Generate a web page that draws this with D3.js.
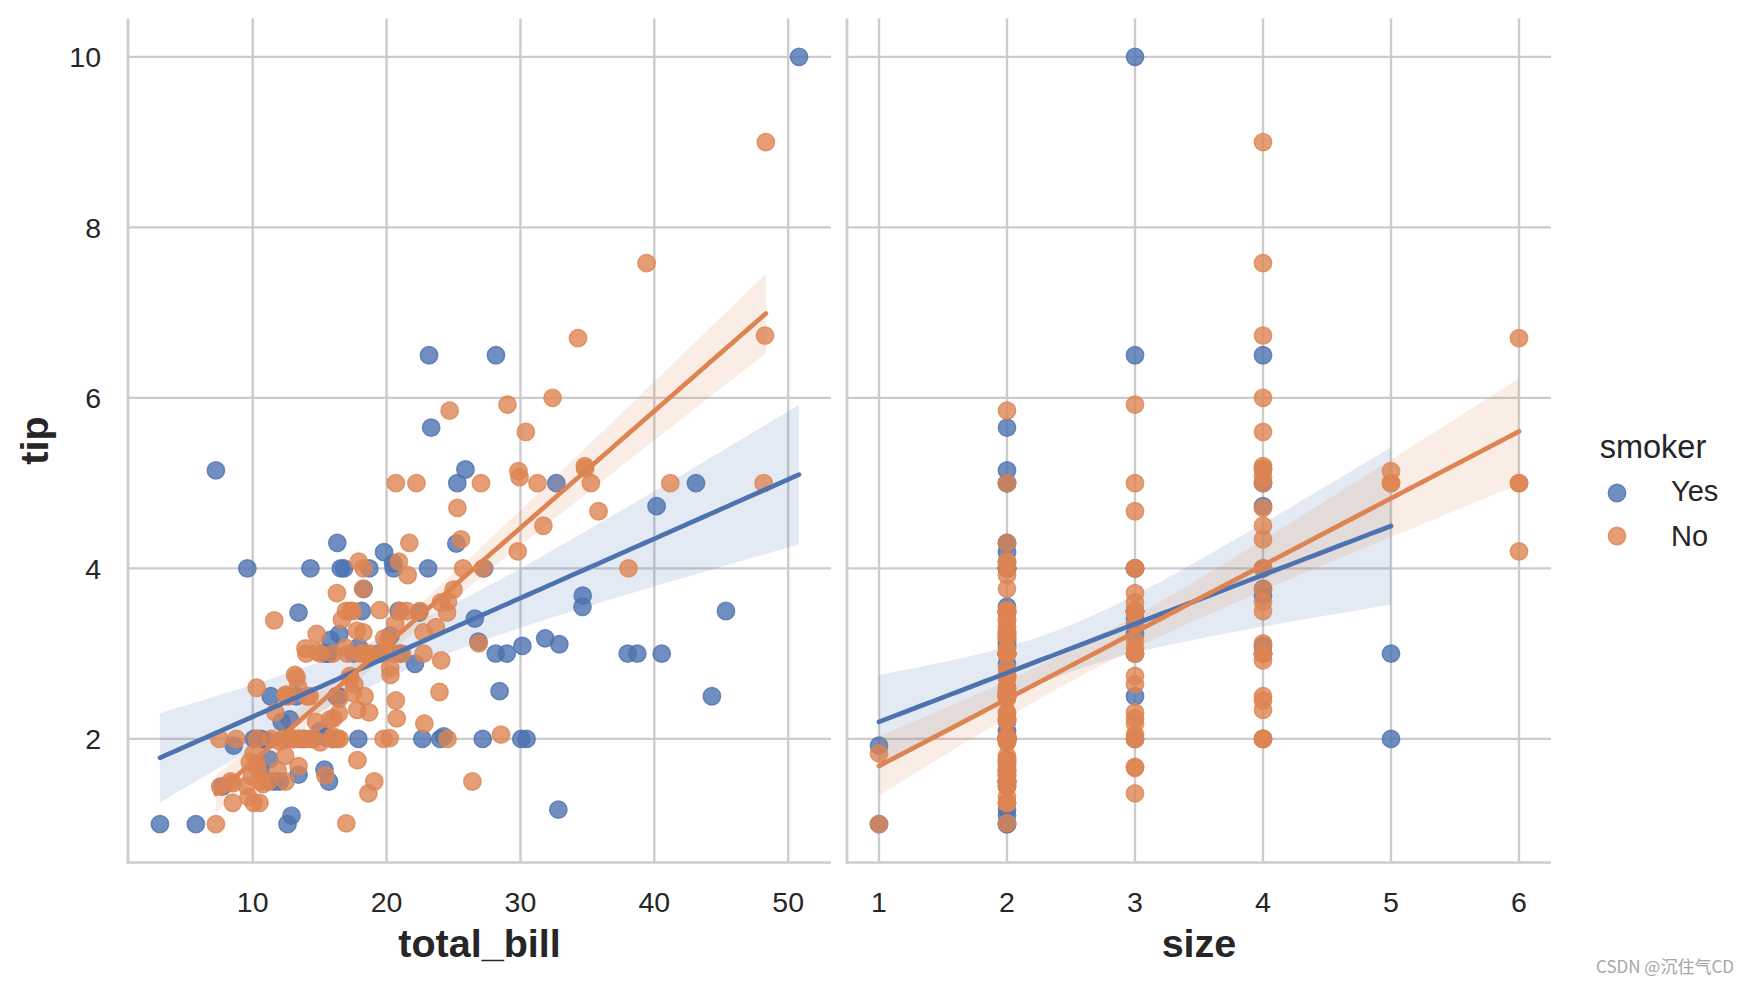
<!DOCTYPE html>
<html><head><meta charset="utf-8">
<script src="https://cdn.jsdelivr.net/npm/d3@7"></script>
<style>html,body{margin:0;padding:0;background:#fff;}svg{display:block;}</style>
</head><body>
<svg id="chart" width="1748" height="984"></svg>
<script>
// ---- data (tips dataset) ----
const totalBill = [16.99,10.34,21.01,23.68,24.59,25.29,8.77,26.88,15.04,14.78,10.27,35.26,15.42,18.43,14.83,21.58,10.33,16.29,16.97,20.65,17.92,20.29,15.77,39.42,19.82,17.81,13.37,12.69,21.7,19.65,9.55,18.35,15.06,20.69,17.78,24.06,16.31,16.93,18.69,31.27,16.04,17.46,13.94,9.68,30.4,18.29,22.23,32.4,28.55,18.04,12.54,10.29,34.81,9.94,25.56,19.49,38.01,26.41,11.24,48.27,20.29,13.81,11.02,18.29,17.59,20.08,16.45,3.07,20.23,15.01,12.02,17.07,26.86,25.28,14.73,10.51,17.92,27.2,22.76,17.29,19.44,16.66,10.07,32.68,15.98,34.83,13.03,18.28,24.71,21.16,28.97,22.49,5.75,16.32,22.75,40.17,27.28,12.03,21.01,12.46,11.35,15.38,44.3,22.42,20.92,15.36,20.49,25.21,18.24,14.31,14.0,7.25,38.07,23.95,25.71,17.31,29.93,10.65,12.43,24.08,11.69,13.42,14.26,15.95,12.48,29.8,8.52,14.52,11.38,22.82,19.08,20.27,11.17,12.26,18.26,8.51,10.33,14.15,16.0,13.16,17.47,34.3,41.19,27.05,16.43,8.35,18.64,11.87,9.78,7.51,14.07,13.13,17.26,24.55,19.77,29.85,48.17,25.0,13.39,16.49,21.5,12.66,16.21,13.81,17.51,24.52,20.76,31.71,10.59,10.63,50.81,15.81,7.25,31.85,16.82,32.9,17.89,14.48,9.6,34.63,34.65,23.33,45.35,23.17,40.55,20.69,20.9,30.46,18.15,23.1,15.69,19.81,28.44,15.48,16.58,7.56,10.34,43.11,13.0,13.51,18.71,12.74,13.0,16.4,20.53,16.47,26.59,38.73,24.27,12.76,30.06,25.89,48.33,13.27,28.17,12.9,28.15,11.59,7.74,30.14,12.16,13.42,8.58,15.98,13.42,16.27,10.09,20.45,13.28,22.12,24.01,15.69,11.61,10.77,15.53,10.07,12.6,32.83,35.83,29.03,27.18,22.67,17.82,18.78];
const tip = [1.01,1.66,3.5,3.31,3.61,4.71,2.0,3.12,1.96,3.23,1.71,5.0,1.57,3.0,3.02,3.92,1.67,3.71,3.5,3.35,4.08,2.75,2.23,7.58,3.18,2.34,2.0,2.0,4.3,3.0,1.45,2.5,3.0,2.45,3.27,3.6,2.0,3.07,2.31,5.0,2.24,2.54,3.06,1.32,5.6,3.0,5.0,6.0,2.05,3.0,2.5,2.6,5.2,1.56,4.34,3.51,3.0,1.5,1.76,6.73,3.21,2.0,1.98,3.76,2.64,3.15,2.47,1.0,2.01,2.09,1.97,3.0,3.14,5.0,2.2,1.25,3.08,4.0,3.0,2.71,3.0,3.4,1.83,5.0,2.03,5.17,2.0,4.0,5.85,3.0,3.0,3.5,1.0,4.3,3.25,4.73,4.0,1.5,3.0,1.5,2.5,3.0,2.5,3.48,4.08,1.64,4.06,4.29,3.76,4.0,3.0,1.0,4.0,2.55,4.0,3.5,5.07,1.5,1.8,2.92,2.31,1.68,2.5,2.0,2.52,4.2,1.48,2.0,2.0,2.18,1.5,2.83,1.5,2.0,3.25,1.25,2.0,2.0,2.0,2.75,3.5,6.7,5.0,5.0,2.3,1.5,1.36,1.63,1.73,2.0,2.5,2.0,2.74,2.0,2.0,5.14,5.0,3.75,2.61,2.0,3.5,2.5,2.0,2.0,3.0,3.48,2.24,4.5,1.61,2.0,10.0,3.16,5.15,3.18,4.0,3.11,2.0,2.0,4.0,3.55,3.68,5.65,3.5,6.5,3.0,5.0,3.5,2.0,3.5,4.0,1.5,4.19,2.56,2.02,4.0,1.44,2.0,5.0,2.0,2.0,4.0,2.01,2.0,2.5,4.0,3.23,3.41,3.0,2.03,2.23,2.0,5.16,9.0,2.5,6.5,1.1,3.0,1.5,1.44,3.09,2.2,3.48,1.92,3.0,1.58,2.5,2.0,3.0,2.72,2.88,2.0,3.0,3.39,1.47,3.0,1.25,1.0,1.17,4.67,5.92,2.0,2.0,1.75,3.0];
const partySize = [2,3,3,2,4,4,2,4,2,2,2,4,2,4,2,2,3,3,3,3,2,2,2,4,2,4,2,2,2,2,2,4,2,4,2,3,3,3,3,3,3,2,2,2,4,2,2,4,3,2,2,2,4,2,4,2,4,2,2,4,2,2,2,4,3,3,2,1,2,2,2,3,2,2,2,2,2,4,2,2,2,2,1,2,2,4,2,2,2,2,2,2,2,2,2,4,2,2,2,2,2,2,3,2,2,2,2,2,2,2,2,1,3,2,3,2,4,2,2,4,2,2,2,2,2,6,2,2,2,3,2,2,2,2,2,2,2,2,2,2,2,6,5,6,2,2,3,2,2,2,2,2,3,4,4,5,6,4,2,4,4,2,3,2,2,3,2,4,2,2,3,2,2,2,2,2,2,2,2,2,4,2,3,4,2,5,3,5,3,3,2,2,2,2,2,2,2,4,2,2,3,2,2,2,4,3,3,4,2,2,3,4,4,2,3,2,5,2,2,4,2,2,1,3,2,2,2,4,2,2,4,3,2,2,2,2,2,2,3,3,2,2,2,2];
const smokerCode = ("NNNNNNNNNN" + "NNNNNNNNNN" + "NNNNNNNNNN" + "NNNNNNNNNN" + "NNNNNNNNNN" +
  "NNNNNNYNYN" + "YYYYNNNYNY" + "NNYYNNYNNN" + "YNNYNNNNNN" + "YNYYNYYYYN" +
  "YYYYNYYYNY" + "NNNNNNNNNN" + "NNNNNNNNNN" + "NNNNNNNNYN" + "NNNNNNNNNN" +
  "NNNNNNNNNN" + "NNNNYNNNYY" + "YYYYYYYYYY" + "YYYYYNYYYY" + "YYYYYNYYYY" +
  "YYYYYYYYYY" + "YYNYYYYYYY" + "YYYNYYYNNY" + "YYNNYNYYNN" + "YYNN").split("");
const smokerLevels = ["Yes", "No"];
const smokerCodes = {"Yes": "Y", "No": "N"};
const xVars = ["total_bill", "size"];
const yVar = "tip";
const xTicksBill = [10, 20, 30, 40, 50];
const xTicksSize = [1, 2, 3, 4, 5, 6];
const yTicks = [2, 4, 6, 8, 10];
const palette = ["#4C72B0", "#DD8452"];

// ---- layout ----
const svg = d3.select("#chart");
const FONT = "Arial, 'Liberation Sans', 'DejaVu Sans', sans-serif";
const plotTop = 18.5, plotBottom = 862.5;
const panels = [
  {name: xVars[0], vals: totalBill, x0: 128, x1: 831, ticks: xTicksBill},
  {name: xVars[1], vals: partySize, x0: 847, x1: 1551, ticks: xTicksSize}
];
function padded(ext) { const r = ext[1] - ext[0]; return [ext[0] - 0.05 * r, ext[1] + 0.05 * r]; }
const y = d3.scaleLinear().domain(padded(d3.extent(tip))).range([plotBottom, plotTop]);

const rows = tip.map((t, i) => ({tb: totalBill[i], sz: partySize[i], tip: t, s: smokerCode[i]}));

function fit(xs, ys) {
  const n = xs.length, mx = d3.mean(xs), my = d3.mean(ys);
  let sxx = 0, sxy = 0;
  for (let i = 0; i < n; i++) { sxx += (xs[i] - mx) ** 2; sxy += (xs[i] - mx) * (ys[i] - my); }
  const b = sxy / sxx, a = my - b * mx;
  let sse = 0;
  for (let i = 0; i < n; i++) sse += (ys[i] - a - b * xs[i]) ** 2;
  const s = Math.sqrt(sse / (n - 2));
  const t = 1.96 + 2.4 / (n - 2);
  return {a, b, mx, sxx, n, s, t};
}

panels.forEach((p, pi) => {
  const x = d3.scaleLinear().domain(padded(d3.extent(p.vals))).range([p.x0, p.x1]);
  const g = svg.append("g");
  // grid
  g.selectAll(".gx").data(p.ticks).enter().append("line")
    .attr("x1", d => x(d)).attr("x2", d => x(d)).attr("y1", plotTop).attr("y2", plotBottom)
    .attr("stroke", "#cccccc").attr("stroke-width", 2.4);
  g.selectAll(".gy").data(yTicks).enter().append("line")
    .attr("x1", p.x0).attr("x2", p.x1).attr("y1", d => y(d)).attr("y2", d => y(d))
    .attr("stroke", "#cccccc").attr("stroke-width", 2.4);
  // spines
  g.append("line").attr("x1", p.x0).attr("x2", p.x0).attr("y1", plotTop).attr("y2", plotBottom + 1.3)
    .attr("stroke", "#cccccc").attr("stroke-width", 2.7);
  g.append("line").attr("x1", p.x0 - 1.3).attr("x2", p.x1).attr("y1", plotBottom).attr("y2", plotBottom)
    .attr("stroke", "#cccccc").attr("stroke-width", 2.7);
  // x tick labels
  g.selectAll(".tx").data(p.ticks).enter().append("text")
    .attr("x", d => x(d)).attr("y", 912).attr("text-anchor", "middle")
    .attr("font-family", FONT).attr("font-size", 28.5).attr("fill", "#262626").text(d => d);
  // x label
  g.append("text").attr("x", (p.x0 + p.x1) / 2).attr("y", 957).attr("text-anchor", "middle")
    .attr("font-family", FONT).attr("font-weight", "bold").attr("font-size", 39.5).attr("fill", "#262626")
    .text(p.name);
  if (pi === 0) {
    g.selectAll(".ty").data(yTicks).enter().append("text")
      .attr("x", 101).attr("y", d => y(d) + 10.3).attr("text-anchor", "end")
      .attr("font-family", FONT).attr("font-size", 28.5).attr("fill", "#262626").text(d => d);
    g.append("text").attr("transform", `translate(48,${(plotTop + plotBottom) / 2}) rotate(-90)`)
      .attr("text-anchor", "middle").attr("font-family", FONT).attr("font-weight", "bold")
      .attr("font-size", 39.5).attr("fill", "#262626").text(yVar);
  }
  const key = pi === 0 ? "tb" : "sz";
  const clipId = "clip" + pi;
  svg.append("clipPath").attr("id", clipId).append("rect")
    .attr("x", p.x0).attr("y", plotTop).attr("width", p.x1 - p.x0).attr("height", plotBottom - plotTop);
  const collections = g.append("g").attr("clip-path", `url(#${clipId})`);
  const lines = g.append("g").attr("clip-path", `url(#${clipId})`);
  smokerLevels.forEach((lev, li) => {
    const col = palette[li];
    const sub = rows.filter(r => r.s === smokerCodes[lev]);
    const xs = sub.map(r => r[key]), ys = sub.map(r => r.tip);
    // scatter
    collections.append("g").selectAll("circle").data(sub).enter().append("circle")
      .attr("cx", r => x(r[key])).attr("cy", r => y(r.tip)).attr("r", 8.7)
      .attr("fill", col).attr("fill-opacity", 0.8)
      .attr("stroke", col).attr("stroke-opacity", 0.8).attr("stroke-width", 1.4);
    // regression + ci band
    const f = fit(xs, ys);
    const [xmn, xmx] = d3.extent(xs);
    const grid = d3.range(100).map(i => xmn + (xmx - xmn) * i / 99);
    const pts = grid.map(xv => {
      const yh = f.a + f.b * xv;
      const se = f.s * Math.sqrt(1 / f.n + (xv - f.mx) ** 2 / f.sxx);
      return {x: xv, y: yh, lo: yh - f.t * se, hi: yh + f.t * se};
    });
    collections.append("path").datum(pts)
      .attr("d", d3.area().x(d => x(d.x)).y0(d => y(d.lo)).y1(d => y(d.hi)))
      .attr("fill", col).attr("fill-opacity", 0.15).attr("stroke", "none");
    lines.append("path").datum(pts)
      .attr("d", d3.line().x(d => x(d.x)).y(d => y(d.y)))
      .attr("fill", "none").attr("stroke", col).attr("stroke-width", 4.7).attr("stroke-linecap", "round");
  });
});

// legend
const lg = svg.append("g");
lg.append("text").attr("x", 1653).attr("y", 458).attr("text-anchor", "middle")
  .attr("font-family", FONT).attr("font-size", 32.5).attr("fill", "#262626").text("smoker");
smokerLevels.forEach((lev, i) => {
  const yy = [493, 536][i];
  lg.append("circle").attr("cx", 1617).attr("cy", yy).attr("r", 8.7)
    .attr("fill", palette[i]).attr("fill-opacity", 0.8)
    .attr("stroke", palette[i]).attr("stroke-opacity", 0.8).attr("stroke-width", 1.4);
  lg.append("text").attr("x", 1671).attr("y", yy + 8 + (i === 1 ? 1.5 : 0))
    .attr("font-family", FONT).attr("font-size", 29).attr("fill", "#262626").text(lev);
});

// watermark
svg.append("text").attr("x", 1734).attr("y", 973).attr("text-anchor", "end")
  .attr("font-family", "'Noto Sans CJK SC', 'Liberation Sans', sans-serif").attr("font-size", 17)
  .attr("fill", "#a6a6a6").text("CSDN @沉住气CD");
</script>
</body></html>
